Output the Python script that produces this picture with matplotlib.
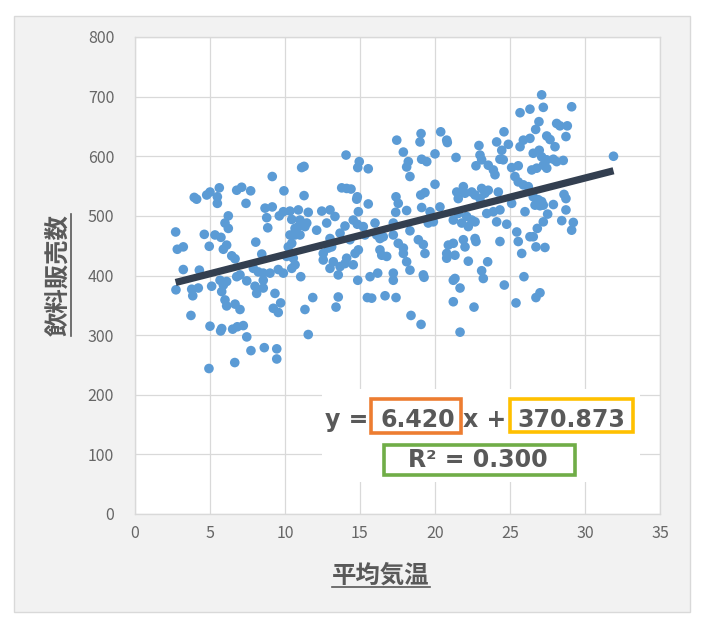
"""
飲料販売数 vs 平均気温 の散布図 + 線形近似
出力: out.png
"""

import matplotlib
matplotlib.use("Agg")
import matplotlib.pyplot as plt
from matplotlib.patches import Rectangle
from matplotlib.lines import Line2D
import numpy as np

W, H = 704, 629

# 平均気温 (x) と 飲料販売数 (y)
temps = [
    9.15, 5.62, 5.0, 4.78, 4.11, 3.95, 5.49, 5.49, 6.78, 7.11, 7.71, 7.4, 9.93, 6.22, 6.0, 6.22,
    2.71, 4.62, 5.33, 5.73, 4.95, 2.82, 3.22, 6.11, 5.89, 8.05, 6.45, 6.67, 8.45, 8.67, 9.15, 8.78,
    8.85, 9.62, 9.89, 3.22, 4.29, 2.73, 3.78, 3.85, 4.22, 5.11, 5.67, 5.89, 5.78, 6.11, 6.0, 6.11,
    6.78, 7.0, 7.45, 7.89, 8.22, 8.55, 9.0, 8.0, 8.11, 8.55, 8.55, 9.33, 9.55, 9.89, 9.71, 9.22,
    9.55, 6.67, 7.0, 3.73, 5.0, 5.78, 5.71, 6.51, 6.82, 7.22, 7.45, 7.73, 8.62, 9.45, 9.45, 4.93,
    6.65,
    17.45, 17.89, 18.22, 18.11, 18.33, 14.07, 14.95, 14.85, 15.55, 11.11, 11.27, 11.27, 13.78, 14.11,
    14.4, 14.82, 14.78, 15.55, 17.4, 17.55, 17.38, 18.11, 10.33, 10.89, 11.55, 12.45, 13.0, 13.33,
    12.78, 10.45, 11.0, 11.45, 11.33, 10.89, 10.67, 10.33, 10.67, 10.45, 10.22, 11.0, 12.11, 14.0,
    14.89, 14.55, 14.82, 13.67, 14.33, 13.0, 12.89, 13.11, 12.55, 12.55, 13.22, 13.0, 13.55, 13.67,
    14.0, 14.11, 14.67, 14.89, 14.55, 15.22, 16.0, 15.33, 16.11, 16.33, 16.55, 17.22, 17.22, 17.55,
    17.89, 17.89, 18.11, 18.33, 16.33, 16.45, 16.78, 10.11, 10.55, 10.67, 10.45, 11.05, 14.85, 15.67,
    16.18, 17.22, 17.22, 11.85, 11.33, 13.55, 13.4, 15.49, 15.78, 16.67, 17.4, 18.4, 11.55,
    25.67, 26.33, 20.38, 20.78, 20.82, 19.07, 19.0, 24.6, 24.11, 24.89, 24.45, 24.33, 24.55, 22.93,
    23.0, 23.11, 22.73, 21.4, 20.0, 19.11, 19.45, 20.0, 23.55, 23.89, 24.0, 25.11, 25.55, 25.33,
    25.55, 25.89, 26.22, 25.67, 25.89, 26.33, 19.05, 19.33, 19.11, 19.67, 20.33, 19.55, 19.89, 18.33,
    21.45, 21.89, 21.55, 22.0, 22.45, 22.67, 23.11, 23.33, 23.55, 23.0, 24.22, 21.22, 21.55, 21.78,
    22.11, 22.22, 22.45, 22.67, 23.45, 23.89, 24.33, 24.11, 24.78, 25.11, 26.0, 25.45, 25.55, 25.78,
    26.33, 24.33, 18.89, 19.22, 19.33, 19.22, 19.27, 20.78, 20.78, 20.89, 21.22, 21.33, 21.89, 22.0,
    22.67, 22.73, 22.22, 23.51, 23.11, 23.22, 21.22, 21.33, 21.67, 24.62, 25.93, 21.22, 22.6, 25.4,
    19.07, 21.67,
    27.11, 27.22, 29.11, 26.93, 26.71, 28.11, 28.33, 28.82, 28.73, 27.45, 27.67, 28.0, 26.55, 26.95,
    27.11, 27.45, 27.89, 28.11, 28.55, 26.45, 26.78, 27.22, 27.45, 26.55, 26.89, 27.11, 26.67, 27.0,
    27.22, 27.89, 28.6, 28.73, 27.51, 27.22, 28.73, 28.45, 29.22, 29.11, 26.82, 26.55, 26.73, 27.33,
    26.73, 27.0, 31.9,
]
sales = [
    566, 547, 540, 535, 528, 531, 532, 521, 543, 548, 542, 521, 542, 500, 488, 479,
    473, 469, 468, 464, 449, 444, 448, 451, 444, 456, 433, 428, 436, 513, 515, 497,
    480, 500, 507, 410, 409, 376, 377, 366, 379, 382, 392, 384, 373, 390, 359, 349,
    398, 401, 391, 412, 406, 404, 404, 382, 370, 392, 379, 370, 410, 404, 354, 345,
    338, 352, 343, 333, 315, 311, 307, 310, 314, 316, 297, 274, 279, 277, 260, 244,
    254,
    627, 607, 591, 582, 566, 602, 591, 581, 579, 581, 583, 534, 547, 546,
    545, 532, 528, 520, 532, 521, 506, 509, 508, 510, 506, 508, 510, 499,
    488, 494, 493, 488, 482, 482, 479, 468, 468, 454, 448, 468, 476, 483,
    507, 493, 486, 471, 460, 462, 446, 448, 437, 426, 423, 412, 401, 415,
    420, 429, 437, 443, 418, 482, 488, 468, 468, 462, 465, 488, 468, 454,
    446, 437, 423, 409, 443, 434, 432, 432, 429, 418, 412, 398, 392, 398,
    404, 404, 392, 363, 343, 364, 347, 363, 362, 366, 363, 333, 301,
    673, 679, 641, 627, 623, 638, 624, 641, 624, 620, 610, 595, 594, 618,
    602, 594, 584, 598, 604, 595, 591, 553, 585, 577, 569, 581, 584, 566,
    557, 552, 549, 616, 627, 630, 535, 539, 514, 507, 515, 488, 490, 475,
    540, 549, 529, 538, 540, 535, 546, 538, 543, 529, 540, 493, 504, 488,
    499, 482, 493, 490, 504, 507, 510, 490, 486, 521, 507, 473, 457, 437,
    465, 457, 460, 452, 437, 401, 397, 437, 429, 451, 454, 434, 460, 448,
    462, 457, 424, 423, 408, 395, 392, 395, 379, 384, 398, 356, 347, 354,
    318, 305,
    703, 682, 683, 658, 645, 655, 651, 651, 633, 634, 628, 616, 605, 610,
    599, 594, 595, 591, 593, 577, 580, 585, 580, 532, 527, 524, 518, 517,
    518, 519, 536, 529, 503, 490, 510, 492, 489, 476, 479, 465, 448, 447,
    363, 371, 600,
]

# 近似直線 (グラフ上の表示値)
slope = 6.420
intercept = 370.873
r_squared = 0.300

x_ticks = [0, 5, 10, 15, 20, 25, 30, 35]
y_ticks = [0, 100, 200, 300, 400, 500, 600, 700, 800]

TEXT_COLOR = "#595959"
GRID_COLOR = "#d9d9d9"
DOT_COLOR = "#5b9bd5"
LINE_COLOR = "#333f50"

plt.rcParams["font.family"] = ["Noto Sans CJK JP", "DejaVu Sans"]


def fx(px):
    return px / W


def fy(py):
    return 1 - py / H


def fig_rect(x0, y0, x1, y1, **kw):
    # ピクセル座標(左上原点)で矩形を置く
    return Rectangle((fx(x0), fy(y1)), fx(x1) - fx(x0), fy(y0) - fy(y1),
                     transform=fig.transFigure, **kw)


fig = plt.figure(figsize=(W / 100, H / 100), dpi=100)
fig.patch.set_facecolor("white")

# グラフエリア (薄いグレー)
fig.add_artist(fig_rect(14, 16, 690, 612, facecolor="#f2f2f2",
                        edgecolor=GRID_COLOR, lw=1, zorder=-1))

ax = fig.add_axes([fx(135), fy(514), fx(660) - fx(135), fy(37) - fy(514)])
ax.set_facecolor("white")
ax.scatter(temps, sales, s=48, color=DOT_COLOR, edgecolors="none", zorder=3)

xs = np.array([min(temps), max(temps)])
ax.plot(xs, slope * xs + intercept, color=LINE_COLOR, lw=5.2,
        solid_capstyle="butt", zorder=4)

ax.set_xlim(0, 35)
ax.set_ylim(0, 800)
ax.set_xticks(x_ticks)
ax.set_yticks(y_ticks)
ax.grid(color=GRID_COLOR, lw=0.9)
ax.set_axisbelow(True)
for s in ax.spines.values():
    s.set_color(GRID_COLOR)
    s.set_linewidth(1)
ax.tick_params(axis="both", length=0, labelsize=11.5, labelcolor="#666666")
ax.tick_params(axis="y", pad=15)
ax.tick_params(axis="x", pad=8)

# 軸ラベル (太字 + 下線)
xlab = fig.text(fx(381), fy(576), "平均気温", ha="center", va="center",
                fontsize=17.6, fontweight="bold", color=TEXT_COLOR)
ylab = fig.text(fx(58), fy(275), "飲料販売数", ha="center", va="center",
                rotation=90, fontsize=17.6, fontweight="bold", color=TEXT_COLOR)

# 近似式の表示
fig.add_artist(fig_rect(322, 389, 640, 482, facecolor="white",
                        edgecolor="none", zorder=2))
eq_font = dict(family=["DejaVu Sans"], fontweight="bold", fontsize=17,
               color=TEXT_COLOR, va="baseline", ha="center", zorder=4)
fig.text(fx(347), fy(427), "y =", **eq_font)
fig.text(fx(418), fy(427), f"{slope:.3f}", **eq_font)
fig.text(fx(485), fy(427), "x +", **eq_font)
fig.text(fx(571), fy(427), f"{intercept:.3f}", **eq_font)
fig.text(fx(478), fy(467), f"R² = {r_squared:.3f}", **eq_font)

fig.add_artist(fig_rect(371, 399, 461, 433, facecolor="none",
                        edgecolor="#ed7d31", lw=2.6, zorder=3))
fig.add_artist(fig_rect(510, 399, 633, 432, facecolor="none",
                        edgecolor="#ffc000", lw=2.6, zorder=3))
fig.add_artist(fig_rect(384, 445, 575, 475, facecolor="none",
                        edgecolor="#70ad47", lw=2.6, zorder=3))

# 下線はテキスト幅から決める
fig.canvas.draw()
rend = fig.canvas.get_renderer()
bx = xlab.get_window_extent(rend)
fig.add_artist(Line2D([bx.x0 / W, bx.x1 / W], [fy(587), fy(587)],
                      transform=fig.transFigure, color=TEXT_COLOR, lw=1.2))
by = ylab.get_window_extent(rend)
fig.add_artist(Line2D([fx(71), fx(71)], [by.y0 / H, by.y1 / H],
                      transform=fig.transFigure, color=TEXT_COLOR, lw=1.2))

fig.savefig("out.png", dpi=100)
